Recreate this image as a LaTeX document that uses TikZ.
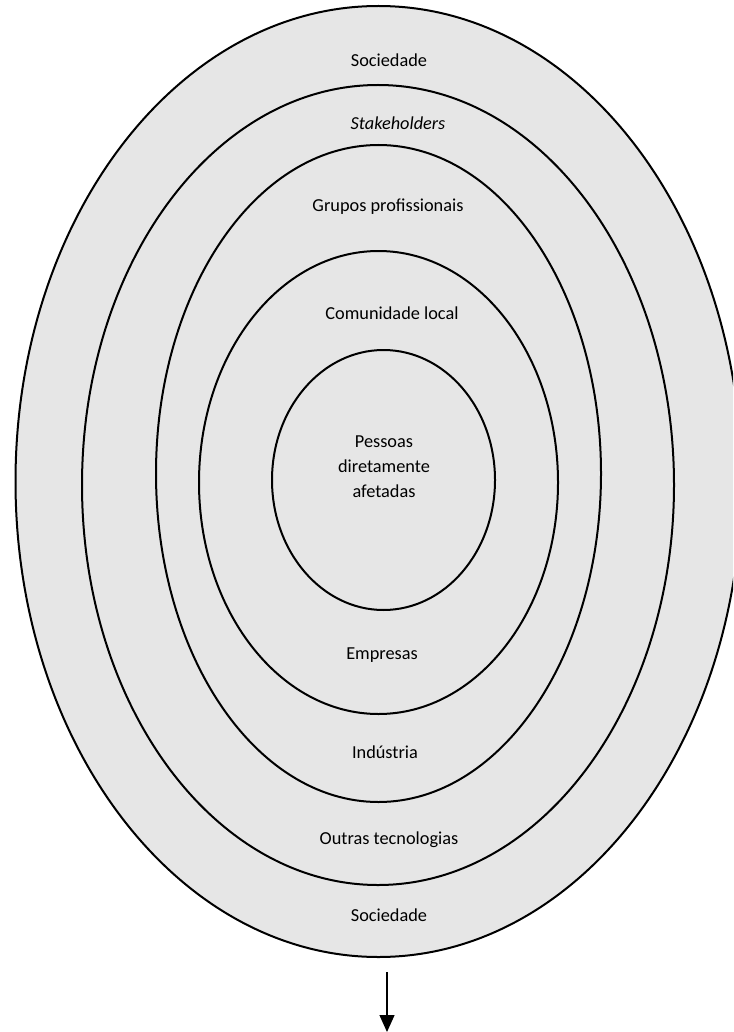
\documentclass[tikz,border=0pt]{standalone}
\usepackage{fontspec}
\setmainfont{Carlito}
\usetikzlibrary{arrows.meta}
\definecolor{ringfill}{HTML}{E6E6E6}
\tikzset{
  ring/.style={draw=black, fill=ringfill, line width=2pt},
  lbl/.style={font=\fontsize{18.3}{25}\selectfont, text=black, inner sep=0pt, align=center},
  flow/.style={draw=black, line width=1.3pt, -{Triangle[width=15pt,length=17pt]}}
}
\begin{document}
\begin{tikzpicture}[x=1pt,y=-1pt]
\useasboundingbox (0,0) rectangle (733,1032);
\clip (0,0) rectangle (733,1032);
% rings
\draw[ring] (378.5,481.5) ellipse [x radius=363, y radius=475.5];
\draw[ring] (378,485) ellipse [x radius=296, y radius=400];
\draw[ring] (378.5,473.5) ellipse [x radius=222.5, y radius=328.5];
\draw[ring] (378.5,482.5) ellipse [x radius=179.5, y radius=231.5];
\draw[ring] (383.5,480) ellipse [x radius=111.5, y radius=130];
% labels
\node[lbl] (soc1) at (389,60) {Sociedade};
\node[lbl] (stk) at (398,123) {\itshape Stakeholders};
\node[lbl] (grp) at (388,207) {Grupos profissionais};
\node[lbl] (com) at (392,313) {Comunidade local};
\node[lbl] (pes) at (384,467) {Pessoas\\diretamente\\afetadas};
\node[lbl] (emp) at (382,655) {Empresas};
\node[lbl] (ind) at (385,752) {Indústria};
\node[lbl] (out) at (389,840) {Outras tecnologias};
\node[lbl] (soc2) at (389,915) {Sociedade};
% arrow
\coordinate (arA) at (387,972);
\coordinate (arB) at (387,1032);
\draw[flow] (arA) -- (arB);
\end{tikzpicture}
\end{document}
